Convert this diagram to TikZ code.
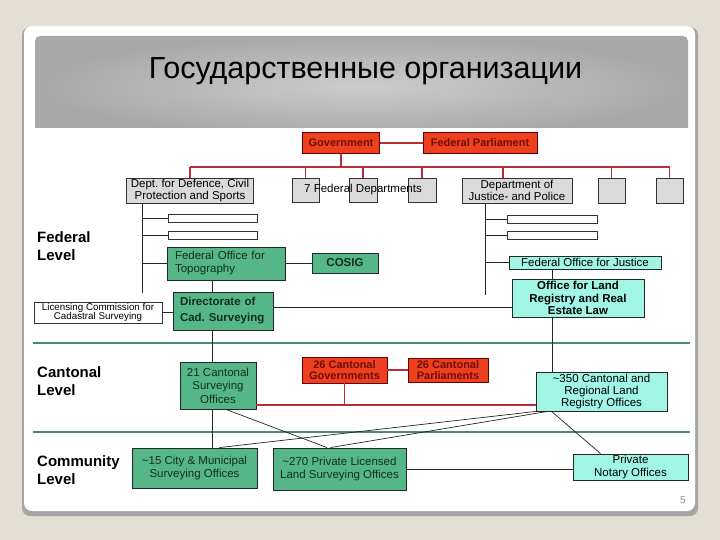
\documentclass[tikz,border=0pt]{standalone}
\usepackage{fontspec}
\setmainfont{Liberation Sans}
\usetikzlibrary{calc}
\definecolor{pagebg}{RGB}{228,223,212}
\definecolor{headdark}{RGB}{168,168,168}
\definecolor{headlight}{RGB}{204,204,204}
\definecolor{boxred}{RGB}{238,64,30}
\definecolor{textred}{RGB}{110,15,10}
\definecolor{linered}{RGB}{185,45,55}
\definecolor{boxgreen}{RGB}{85,182,135}
\definecolor{textgreen}{RGB}{18,48,32}
\definecolor{boxcyan}{RGB}{160,245,228}
\definecolor{boxgrey}{RGB}{218,218,218}
\definecolor{sepgreen}{RGB}{78,138,108}

\begin{document}
\begin{tikzpicture}[x=1pt, y=-1pt,
    every node/.style={font=\fontsize{11.5}{11}\selectfont, inner sep=0pt},
    greybox/.style={draw=black!80, fill=boxgrey, line width=0.8pt},
    redbox/.style={draw=black!60!red, fill=boxred, text=textred, font=\fontsize{11}{11}\selectfont\bfseries, line width=0.8pt, align=center},
    greenbox/.style={draw=black!85, fill=boxgreen, text=textgreen, line width=0.9pt},
    cyanbox/.style={draw=black!85, fill=boxcyan, line width=0.9pt},
    whitebar/.style={draw=black!80, fill=white, minimum width=89pt, minimum height=8pt, line width=0.7pt},
    redline/.style={draw=linered, line width=1.6pt},
    blackline/.style={draw=black!85, line width=0.7pt},
    sepline/.style={draw=sepgreen, line width=2.8pt},
    levellabel/.style={font=\fontsize{15}{18.5}\selectfont\bfseries, align=left, anchor=west}
]
    \useasboundingbox (0,0) rectangle (720,540);

    % Slide
    \fill[pagebg] (0,0) rectangle (720,540);
    \fill[black!35, rounded corners=8pt] (22,27) rectangle (698,516);
    \fill[white, rounded corners=8pt] (24,26) rectangle (695,511);
    \shade[inner color=headlight, outer color=headdark, rounded corners=5pt] (35,36) rectangle (688,136);
    \fill[white] (34,128) rectangle (689,137);
    \node[font=\fontsize{30.5}{36}\selectfont, anchor=base] (title) at (365.5,79) {Государственные организации};
    \node[text=black!45, font=\fontsize{10}{10}\selectfont] (pnum) at (683,500) {5};

    % Level separators
    \draw[sepline] (33,343) -- (690,343);
    \draw[sepline] (33,432) -- (690,432);

    % Level labels
    \node[levellabel] (fedlvl) at (37,246) {Federal\\Level};
    \node[levellabel] (cantlvl) at (37,381) {Cantonal\\Level};
    \node[levellabel] (commlvl) at (37,470) {Community\\Level};

    % Federal top
    \node[redbox, minimum width=77pt, minimum height=21pt] (gov) at (341,143) {Government};
    \node[redbox, minimum width=114pt, minimum height=21pt] (parl) at (480,143) {Federal Parliament};
    \node[greybox, minimum width=127pt, minimum height=25pt, align=center, font=\fontsize{11.5}{10.5}\selectfont] (ddef) at (190,190.5) {Dept.\ for Defence, Civil\\Protection and Sports};
    \node[greybox, minimum width=27pt, minimum height=24pt] (fd1) at (305.5,190) {};
    \node[greybox, minimum width=28pt, minimum height=24pt] (fd2) at (363,190) {};
    \node[greybox, minimum width=28pt, minimum height=24pt] (fd3) at (422,190) {};
    \node (fdtext) at (363,190) {7 Federal Departments};
    \node[greybox, minimum width=110pt, minimum height=25pt, align=center, font=\fontsize{11.5}{10.5}\selectfont] (djust) at (517,190.5) {Department of\\Justice- and Police};
    \node[greybox, minimum width=27pt, minimum height=25pt] (dj1) at (611.5,190.5) {};
    \node[greybox, minimum width=27pt, minimum height=25pt] (dj2) at (669.5,190.5) {};

    \coordinate (bar) at (0,167);
    \draw[redline] (gov.east) -- (parl.west);
    \draw[redline] (gov.south) -- (gov.south |- bar);
    \draw[redline] (ddef.north |- bar) -- (dj2.north |- bar);
    \foreach \n in {ddef, fd1, fd2, fd3, dj1, dj2}
        \draw[redline] (\n.north) -- (\n.north |- bar);
    \draw[redline] ([xshift=-14pt]djust.north) -- ([xshift=-14pt]djust.north |- bar);

    % Defence column
    \coordinate (dv) at (142,293);
    \coordinate (dx) at (212,0);
    \node[whitebar] (wd1) at (212.5,218) {};
    \node[whitebar] (wd2) at (212.5,235) {};
    \node[greenbox, minimum width=118pt, minimum height=33pt, text width=102pt, align=left, font=\fontsize{11.5}{13}\selectfont] (topo) at (226,263.5) {Federal Office for\\Topography};
    \node[greenbox, minimum width=66pt, minimum height=20pt, font=\fontsize{11.5}{11}\selectfont\bfseries] (cosig) at (345,263) {COSIG};
    \node[greenbox, minimum width=100pt, minimum height=38pt, text width=86pt, align=left, font=\fontsize{11.5}{16}\selectfont\bfseries] (dir) at (223,311) {Directorate of\\Cad.\ Surveying};
    \node[draw=black!80, fill=white, minimum width=128pt, minimum height=21pt, align=center, line width=0.7pt, font=\fontsize{9.8}{9.5}\selectfont] (lic) at (98,312.5) {Licensing Commission for\\Cadastral Surveying};

    \draw[blackline] (dv |- ddef.south) -- (dv);
    \foreach \n in {wd1, wd2, topo}
        \draw[blackline] (\n.west) -- (\n.west -| dv);
    \draw[blackline] (topo.east) -- (topo.east -| cosig.west);
    \draw[blackline] (topo.south -| dx) -- (dir.north -| dx);
    \draw[blackline] (lic.east) -- (lic.east -| dir.west);

    % Justice column
    \coordinate (jv) at (485,295);
    \coordinate (jx) at (552,0);
    \node[whitebar, minimum width=90pt] (wj1) at (552,219) {};
    \node[whitebar, minimum width=90pt] (wj2) at (552,235) {};
    \node[cyanbox, minimum width=152pt, minimum height=13pt] (fojust) at (585,262.5) {Federal Office for Justice};
    \node[cyanbox, minimum width=132pt, minimum height=38pt, align=center, font=\fontsize{11.5}{12.5}\selectfont\bfseries] (landreg) at (578,298) {Office for Land\\Registry and Real\\Estate Law};

    \draw[blackline] (jv |- djust.south) -- (jv);
    \foreach \n in {wj1, wj2, fojust}
        \draw[blackline] (\n.west) -- (\n.west -| jv);
    \draw[blackline] (fojust.south -| jx) -- (landreg.north -| jx);
    \draw[blackline] ([yshift=4pt]dir.east) -- ([yshift=4pt]dir.east -| landreg.west);

    % Cantonal level
    \node[greenbox, minimum width=76pt, minimum height=47pt, align=center, font=\fontsize{11.5}{13.5}\selectfont] (cant) at (218,385.5) {21 Cantonal\\Surveying\\Offices};
    \node[redbox, minimum width=85pt, minimum height=26pt] (cgov) at (344.5,370) {26 Cantonal\\Governments};
    \node[redbox, minimum width=80pt, minimum height=24pt] (cparl) at (448,370) {26 Cantonal\\Parliaments};
    \node[cyanbox, minimum width=131pt, minimum height=39pt, align=center, font=\fontsize{11.5}{12}\selectfont] (creg) at (601.5,391.5) {\textasciitilde350 Cantonal and\\Regional Land\\Registry Offices};

    \coordinate (rl) at (0,405);
    \draw[blackline] (dir.south -| dx) -- (cant.north -| dx);
    \draw[blackline] (landreg.south -| jx) -- (creg.north -| jx);
    \draw[redline] (cgov.east) -- (cparl.west);
    \draw[redline] (cant.east |- rl) -- (creg.west |- rl);
    \draw[redline] (cgov.south) -- (cgov.south |- rl);

    % Community level
    \node[greenbox, minimum width=125pt, minimum height=40pt, align=center, font=\fontsize{11.5}{13}\selectfont] (city) at (194.5,468) {\textasciitilde15 City \& Municipal\\Surveying Offices};
    \node[greenbox, minimum width=133pt, minimum height=42pt, align=center, font=\fontsize{11.5}{13}\selectfont] (priv) at (339.5,469) {\textasciitilde270 Private Licensed\\Land Surveying Offices};
    \node[cyanbox, minimum width=115pt, minimum height=26pt, align=center, font=\fontsize{11.5}{12.5}\selectfont] (notary) at (630.5,467) {Private\\Notary Offices};

    \draw[blackline] (cant.south -| dx) -- (city.north -| dx);
    \draw[blackline] ([xshift=8pt]cant.south) -- ([xshift=-12.5pt]priv.north);
    \draw[blackline] (creg.south west) -- ([xshift=25pt]city.north);
    \draw[blackline] ([xshift=12pt]creg.south west) -- ([xshift=-9pt]priv.north);
    \draw[blackline] ([xshift=16pt]creg.south west) -- ([xshift=-30pt]notary.north);
    \draw[blackline] (priv.east) -- (priv.east -| notary.west);
\end{tikzpicture}
\end{document}
